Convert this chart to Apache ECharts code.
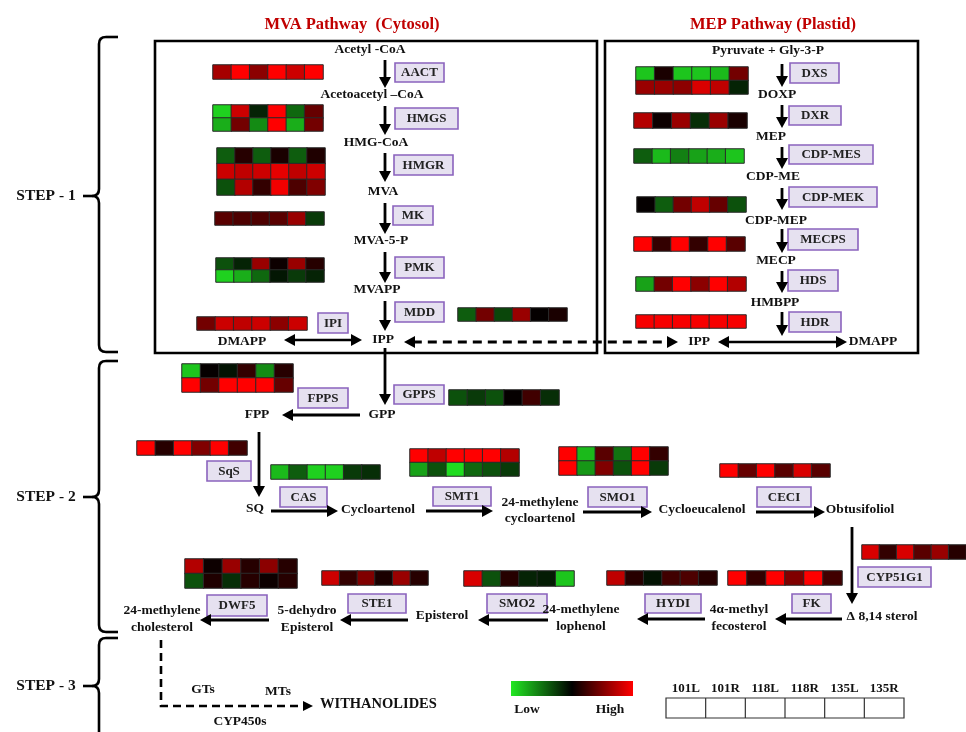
<!DOCTYPE html>
<html><head><meta charset="utf-8">
<script src="https://cdn.jsdelivr.net/npm/echarts/dist/echarts.min.js"></script>
<style>html,body{margin:0;padding:0;background:#fff}#c{width:966px;height:732px}</style>
</head><body><div id="c"></div>
<script>
// ---- data: samples and expression (relative, -1 low/green .. +1 high/red) ----
const samples = ['101L','101R','118L','118R','135L','135R'];
const AACT   = [[0.65,1,0.55,1,0.8,1]];
const HMGS   = [[-0.9,0.8,-0.15,1,-0.45,0.4],[-0.75,0.45,-0.6,1,-0.75,0.45]];
const HMGR   = [[-0.4,0.15,-0.4,0.1,-0.4,0.12],[0.8,0.75,0.8,0.9,0.75,0.8],[-0.35,0.7,0.2,0.95,0.3,0.5]];
const MK     = [[0.35,0.3,0.3,0.35,0.6,-0.25]];
const PMK    = [[-0.35,-0.15,0.6,0.05,0.6,0.15],[-0.9,-0.75,-0.45,-0.1,-0.25,-0.15]];
const IPI    = [[0.45,0.8,0.75,0.8,0.55,0.8]];
const MDD    = [[-0.4,0.45,-0.3,0.6,0.02,0.1]];
const DXS    = [[-0.85,0.1,-0.85,-0.85,-0.8,0.45],[0.6,0.6,0.55,0.85,0.75,-0.15]];
const DXR    = [[0.7,0.05,0.6,-0.2,0.6,0.1]];
const CDPMES = [[-0.4,-0.8,-0.55,-0.7,-0.75,-0.85]];
const CDPMEK = [[0.02,-0.4,0.45,0.75,0.4,-0.35]];
const MECPS  = [[1,0.2,1,0.2,1,0.35]];
const HDS    = [[-0.7,0.45,1,0.55,1,0.7]];
const HDR    = [[0.97,0.97,0.97,0.97,0.97,0.97]];
const FPPS   = [[-0.85,0.02,-0.08,0.2,-0.6,0.15],[1,0.45,1,1,1,0.4]];
const GPPS   = [[-0.35,-0.25,-0.35,0.02,0.25,-0.2]];
const SQS    = [[1,0.15,1,0.5,1,0.25]];
const CAS    = [[-0.8,-0.4,-0.9,-0.9,-0.25,-0.2]];
const SMT1   = [[1,0.75,1,1,1,0.7],[-0.7,-0.35,-0.95,-0.45,-0.35,-0.25]];
const SMO1   = [[1,-0.8,0.35,-0.5,1,0.2],[1,-0.65,0.5,-0.35,1,-0.25]];
const CECI   = [[1,0.4,1,0.35,0.85,0.35]];
const CYP51G1= [[0.85,0.2,0.85,0.35,0.6,0.15]];
const FK     = [[1,0.2,1,0.5,1,0.25]];
const HYDI   = [[0.75,0.15,-0.08,0.25,0.3,0.15]];
const SMO2   = [[0.85,-0.35,0.15,-0.15,-0.12,-0.85]];
const STE1   = [[0.8,0.2,0.5,0.1,0.6,0.15]];
const DWF5   = [[0.7,0.05,0.6,0.15,0.55,0.15],[-0.35,0.12,-0.2,0.15,0.05,0.15]];

// ---- layout of strips (left, top, width, height) ----
const stripLayout = [
  [AACT,213,65,110,14],[HMGS,213,105,110,26],[HMGR,217,148,108,47],[MK,215,212,109,13],
  [PMK,216,258,108,24],[IPI,197,317,110,13],[MDD,458,308,109,13],
  [DXS,636,67,112,27],[DXR,634,113,113,15],[CDPMES,634,149,110,14],[CDPMEK,637,197,109,15],
  [MECPS,634,237,111,14],[HDS,636,277,110,14],[HDR,636,315,110,13],
  [FPPS,182,364,111,28],[GPPS,449,390,110,15],[SQS,137,441,110,14],[CAS,271,465,109,14],
  [SMT1,410,449,109,27],[SMO1,559,447,109,28],[CECI,720,464,110,13],[CYP51G1,862,545,110,14],
  [FK,728,571,114,14],[HYDI,607,571,110,14],[SMO2,464,571,110,15],[STE1,322,571,106,14],
  [DWF5,185,559,112,29]
];

const grids=[], xAxes=[], yAxes=[], series=[];
stripLayout.forEach((s,i)=>{
  const [vals,l,t,w,h]=s;
  grids.push({left:l,top:t,width:w,height:h,containLabel:false});
  xAxes.push({gridIndex:i,type:'category',data:samples,show:false});
  yAxes.push({gridIndex:i,type:'category',data:vals.map((_,k)=>'r'+k),inverse:true,show:false});
  const d=[]; vals.forEach((row,r)=>row.forEach((v,c)=>d.push([c,r,v])));
  series.push({type:'heatmap',xAxisIndex:i,yAxisIndex:i,data:d,silent:true,
    itemStyle:{borderColor:'#2a2a2a',borderWidth:1},emphasis:{disabled:true}});
});

// ---- drawing helpers ----
const FONT='"Liberation Serif","Times New Roman",serif';
const M=13.5;
const G=[];
function txt(s,x,y,size,o={}){G.push({type:'text',z:20,silent:true,style:{text:s,x,y,
  font:'bold '+size+'px '+FONT,fill:o.fill||'#111',align:o.align||'center',verticalAlign:'middle',lineHeight:o.lh||size+3}});}
function head(x,y,ux,uy,hl,hw){const px=-uy,py=ux;
  G.push({type:'polygon',z:15,silent:true,shape:{points:[[x,y],[x-ux*hl+px*hw,y-uy*hl+py*hw],[x-ux*hl-px*hw,y-uy*hl-py*hw]]},style:{fill:'#000'}});}
function ln(x1,y1,x2,y2,lw,dash){G.push({type:'line',z:15,silent:true,shape:{x1,y1,x2,y2},style:{stroke:'#000',lineWidth:lw,lineDash:dash||null}});}
function arrow(x1,y1,x2,y2,o={}){
  const lw=o.lw||2.8,hl=o.hl||11,hw=o.hw||6;
  const dx=x2-x1,dy=y2-y1,L=Math.hypot(dx,dy),ux=dx/L,uy=dy/L;
  let sx=x1,sy=y1;
  if(o.both){sx=x1+ux*hl*0.8;sy=y1+uy*hl*0.8;head(x1,y1,-ux,-uy,hl,hw);}
  ln(sx,sy,x2-ux*hl*0.8,y2-uy*hl*0.8,lw,o.dash);
  head(x2,y2,ux,uy,hl,hw);
}
function enz(s,x,y,w,h){
  G.push({type:'rect',z:12,silent:true,shape:{x,y,width:w,height:h},style:{fill:'#e6e1f0',stroke:'#8b63bd',lineWidth:1.6}});
  txt(s,x+w/2,y+h/2+0.5,13,{fill:'#222'});
}
function bz(x1,y1,cx,cy,x2,y2){G.push({type:'bezierCurve',z:15,silent:true,shape:{x1,y1,cpx1:cx,cpy1:cy,x2,y2},style:{fill:'none',stroke:'#000',lineWidth:2.6}});}
function brace(top,tip,bot){
  const x=99;
  ln(118,top,106,top,2.6); bz(106,top,x,top,x,top+7); ln(x,top+7,x,tip-7,2.6);
  bz(x,tip-7,x,tip,x-7,tip); bz(x-7,tip,x,tip,x,tip+7); ln(x-7,tip,83,tip,2.6);
  ln(x,tip+7,x,bot-7,2.6); bz(x,bot-7,x,bot,106,bot); ln(106,bot,118,bot,2.6);
}

// titles & compartments
txt('MVA Pathway  (Cytosol)',352,25,16.5,{fill:'#c00000'});
txt('MEP Pathway (Plastid)',773,25,16.5,{fill:'#c00000'});
G.push({type:'rect',z:5,silent:true,shape:{x:155,y:41,width:442,height:312},style:{fill:'none',stroke:'#000',lineWidth:2.6}});
G.push({type:'rect',z:5,silent:true,shape:{x:605,y:41,width:313,height:312},style:{fill:'none',stroke:'#000',lineWidth:2.6}});

// steps
brace(37,196,352); brace(361,497,632); brace(638,686,780);
txt('STEP - 1',46,196,15.5); txt('STEP - 2',46,497,15.5); txt('STEP - 3',46,686,15.5);

// MVA
txt('Acetyl -CoA',370,50,M); txt('Acetoacetyl –CoA',372,95,M); txt('HMG-CoA',376,143,M);
txt('MVA',383,192,M); txt('MVA-5-P',381,241,M); txt('MVAPP',377,290,M);
txt('IPP',383,340,M); txt('DMAPP',242,342,M);
arrow(385,60,385,88); arrow(385,106,385,135); arrow(385,153,385,182);
arrow(385,203,385,234); arrow(385,252,385,283); arrow(385,301,385,331);
enz('AACT',395,63,49,19); enz('HMGS',395,108,63,21); enz('HMGR',394,155,59,20);
enz('MK',393,206,40,19); enz('PMK',395,257,49,21); enz('MDD',395,302,49,20); enz('IPI',318,313,30,20);
arrow(284,340,362,340,{both:true,lw:2.5});
arrow(404,342,678,342,{both:true,dash:[9,6],lw:2.8});

// MEP
txt('Pyruvate + Gly-3-P',768,51,M); txt('DOXP',777,95,M); txt('MEP',771,137,M);
txt('CDP-ME',773,177,M); txt('CDP-MEP',776,221,M); txt('MECP',776,261,M);
txt('HMBPP',775,303,M); txt('IPP',699,342,M); txt('DMAPP',873,342,M);
arrow(782,64,782,87); arrow(782,105,782,128); arrow(782,147,782,169); arrow(782,188,782,210);
arrow(782,229,782,253); arrow(782,271,782,293); arrow(782,312,782,336);
enz('DXS',790,63,49,20); enz('DXR',789,106,52,19); enz('CDP-MES',789,145,84,19);
enz('CDP-MEK',789,187,88,20); enz('MECPS',788,229,70,21); enz('HDS',788,270,50,21); enz('HDR',789,312,52,20);
arrow(718,342,847,342,{both:true,lw:2.5});

// STEP 2
arrow(385,348,385,405); txt('GPP',382,415,M); txt('FPP',257,415,M);
arrow(360,415,282,415); arrow(259,432,259,497);
txt('SQ',255,509,M); txt('Cycloartenol',378,510,M); txt('24-methylene\ncycloartenol',540,511,M,{lh:16});
txt('Cycloeucalenol',702,510,M); txt('Obtusifoliol',860,510,M);
arrow(271,511,338,511); arrow(426,511,493,511); arrow(583,512,652,512); arrow(756,512,825,512);
arrow(852,527,852,604);
txt('Δ 8,14 sterol',882,617,M); txt('4α-methyl\nfecosterol',739,618,M,{lh:17});
txt('24-methylene\nlophenol',581,618,M,{lh:17}); txt('Episterol',442,616,M);
txt('5-dehydro\nEpisterol',307,619,M,{lh:17}); txt('24-methylene\ncholesterol',162,619,M,{lh:17});
arrow(842,619,775,619); arrow(705,619,637,619); arrow(548,620,478,620); arrow(408,620,340,620); arrow(269,620,200,620);
enz('FPPS',298,388,50,20); enz('GPPS',394,385,50,19); enz('SqS',207,461,44,20); enz('CAS',280,487,47,20);
enz('SMT1',433,487,58,19); enz('SMO1',588,487,59,20); enz('CECI',757,487,54,20); enz('CYP51G1',858,567,73,20);
enz('FK',792,594,39,19); enz('HYDI',645,594,56,19); enz('SMO2',487,594,60,19); enz('STE1',348,594,58,19); enz('DWF5',207,595,60,21);

// STEP 3
G.push({type:'polyline',z:15,silent:true,shape:{points:[[161,640],[161,706],[304,706]]},style:{fill:'none',stroke:'#000',lineWidth:2.6,lineDash:[8,5]}});
head(313,706,1,0,10,5);
txt('GTs',203,690,M); txt('MTs',278,692,M); txt('WITHANOLIDES',320,704,14.5,{align:'left'}); txt('CYP450s',240,722,M);

// colour key
G.push({type:'rect',z:12,silent:true,shape:{x:511,y:681,width:122,height:15},style:{fill:new echarts.graphic.LinearGradient(0,0,1,0,[{offset:0,color:'#22e822'},{offset:0.5,color:'#000'},{offset:1,color:'#ff0000'}])}});
txt('Low',527,710,M); txt('High',610,710,M);
const tx=666,tw=238/6;
G.push({type:'rect',z:12,silent:true,shape:{x:tx,y:698,width:238,height:20},style:{fill:'none',stroke:'#333',lineWidth:1.2}});
samples.forEach((s,i)=>{
  if(i>0)G.push({type:'line',z:12,silent:true,shape:{x1:tx+i*tw,y1:698,x2:tx+i*tw,y2:718},style:{stroke:'#333',lineWidth:1.2}});
  txt(s,tx+tw*(i+0.5),689,13);
});

const chart=echarts.init(document.getElementById('c'),null,{renderer:'canvas'});
chart.setOption({
  backgroundColor:'#fff',animation:false,
  visualMap:{type:'continuous',min:-1,max:1,show:false,inRange:{color:['#22e822','#000000','#ff0000']}},
  grid:grids,xAxis:xAxes,yAxis:yAxes,series:series,graphic:{elements:G}
});
</script></body></html>
